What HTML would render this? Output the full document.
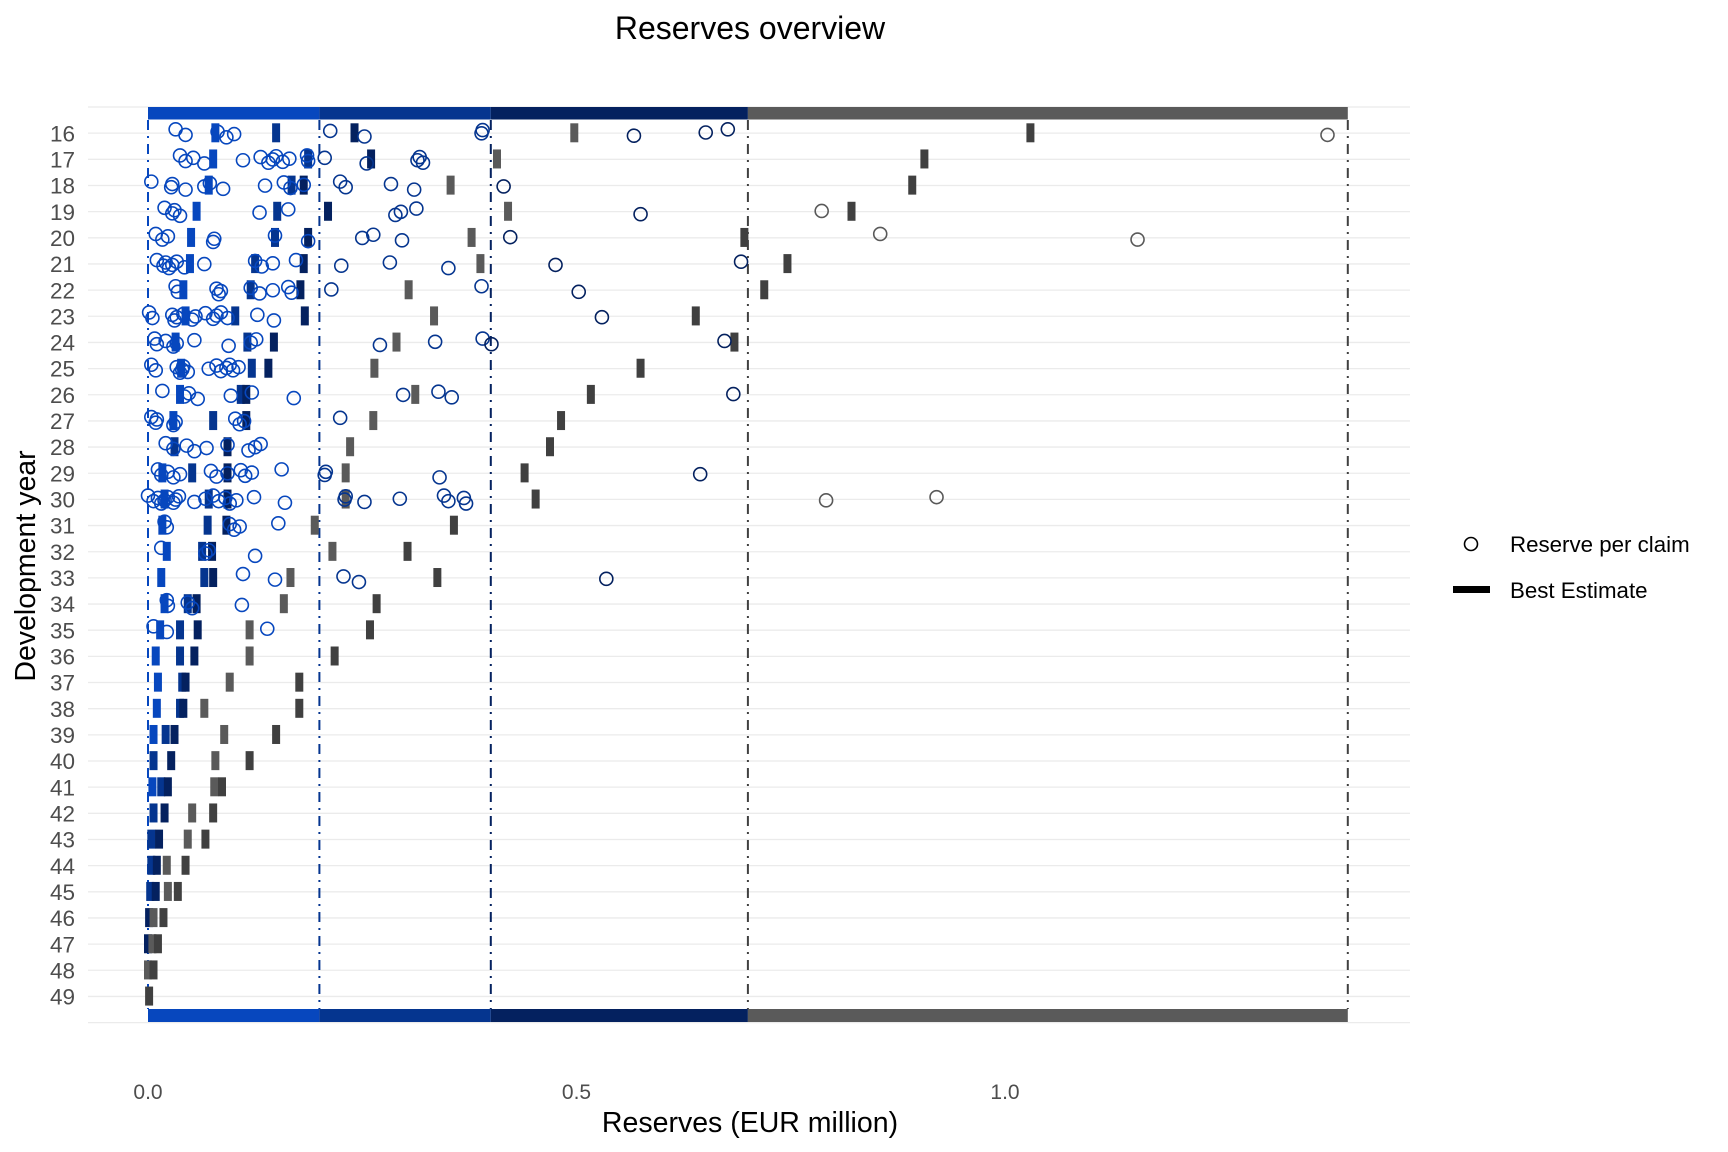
<!DOCTYPE html>
<html><head><meta charset="utf-8"><style>
html,body{margin:0;padding:0;background:#fff;}
svg{display:block;font-family:"Liberation Sans",Arial,sans-serif;}
</style></head><body>
<svg id="s" width="1728" height="1152" viewBox="0 0 1728 1152" xmlns="http://www.w3.org/2000/svg">
<rect width="1728" height="1152" fill="#fff"/>
<g id="grid"></g>
<g id="bars"></g>
<g id="dl"></g>
<g id="data"></g>
<g id="ylab" font-size="22.5" fill="#4d4d4d" text-anchor="end"></g>
<text x="750" y="39" font-size="32" text-anchor="middle" fill="#000">Reserves overview</text>
<text x="148" y="1099" font-size="21" fill="#4d4d4d" text-anchor="middle">0.0</text>
<text x="576.5" y="1099" font-size="21" fill="#4d4d4d" text-anchor="middle">0.5</text>
<text x="1005" y="1099" font-size="21" fill="#4d4d4d" text-anchor="middle">1.0</text>
<text x="750" y="1132" font-size="28.5" text-anchor="middle" fill="#000">Reserves (EUR million)</text>
<text transform="translate(35,566) rotate(-90)" font-size="28.5" text-anchor="middle" fill="#000">Development year</text>
<circle cx="1471" cy="544" r="6.5" fill="none" stroke="#000" stroke-width="1.6"/>
<text x="1510" y="552" font-size="22.3" fill="#000">Reserve per claim</text>
<rect x="1453" y="586" width="37" height="7" fill="#000"/>
<text x="1510" y="598" font-size="22.3" fill="#000">Best Estimate</text>
</svg>
<script>
var NS="http://www.w3.org/2000/svg";
function el(p,t,a){var e=document.createElementNS(NS,t);for(var k in a)e.setAttribute(k,a[k]);document.getElementById(p).appendChild(e);return e;}
var X=function(v){return 148+v*857;};
var xd=function(d){return 148+(d-134)*1.1044;};
var Y0=133.3,DY=26.16;
for(var k=0;k<36;k++){var y=107+DY*k;el("grid","line",{x1:88,x2:1410,y1:y,y2:y,stroke:"#ebebeb","stroke-width":1.3});}
var segs=[[0,0.2,"#0747BE"],[0.2,0.4,"#05358F"],[0.4,0.7,"#04215F"],[0.7,1.4,"#5a5a5a"]];
segs.forEach(function(s){el("bars","rect",{x:X(s[0]),y:107,width:X(s[1])-X(s[0]),height:12.5,fill:s[2]});el("bars","rect",{x:X(s[0]),y:1009,width:X(s[1])-X(s[0]),height:13,fill:s[2]});});
[[0,"#0747BE"],[0.2,"#05358F"],[0.4,"#04215F"],[0.7,"#404040"],[1.4,"#404040"]].forEach(function(l){el("dl","line",{x1:X(l[0]),x2:X(l[0]),y1:120,y2:1009,stroke:l[1],"stroke-width":2,"stroke-dasharray":"10,6,2,6"});});
var C={16:[159,168,197,205,212,299,330,436,437,574,639,659,1202],17:[163,168,175,185,220,236,243,247,250,256,262,278,279,294,332,378,380,383],18:[137,155,156,168,185,190,202,240,257,263,275,308,313,354,375,456],19:[149,156,158,163,235,261,358,363,377,580,744],20:[141,147,152,193,194,249,279,328,338,364,462,797,1030],21:[142,148,150,153,156,160,167,185,231,237,247,268,309,353,406,503,671],22:[159,161,196,198,200,227,235,247,261,264,300,436,524],23:[135,138,156,158,160,166,174,177,186,193,196,200,206,233,248,545],24:[140,142,150,157,160,176,207,227,232,344,394,437,445,656],25:[137,141,160,163,165,166,170,189,196,200,205,208,211,216],26:[147,167,171,179,209,228,266,365,397,409,664],27:[137,141,142,157,159,213,217,221,308],28:[150,157,169,176,187,206,225,231,236],29:[143,146,152,157,163,191,196,206,218,222,228,255,294,295,398,634],30:[134,139,143,146,149,152,157,159,162,176,186,193,198,204,208,214,230,258,312,313,330,362,402,406,420,422,748,848],31:[149,151,208,212,217,252],32:[146,186,189,231],33:[220,249,311,325,549],34:[151,152,170,174,219],35:[139,151,242]};
var R={16:[195,250,321,520,933],17:[193,279,336,450,837],18:[189,264,275,408,826],19:[178,251,297,460,771],20:[173,249,279,427,674],21:[172,231,275,435,713],22:[166,227,272,370,692],23:[168,213,276,393,630],24:[159,224,248,359,665],25:[164,228,243,339,580],26:[163,218,223,376,535],27:[157,193,223,338,508],28:[158,206,317,498],29:[147,174,206,313,475],30:[149,189,206,313,485],31:[147,188,205,285,411],32:[151,183,192,301,369],33:[146,185,193,263,396],34:[149,170,178,257,341],35:[145,163,179,226,335],36:[141,163,176,226,303],37:[143,165,168,208,271],38:[142,163,166,185,271],39:[139,150,158,203,250],40:[139,155,195,226],41:[138,146,152,194,201],42:[139,149,174,193],43:[137,144,170,186],44:[137,142,151,168],45:[136,141,152,161],46:[135,139,148],47:[134,138,143],48:[134,139],49:[135]};
var rc=["#0747BE","#05358F","#04215F","#5a5a5a","#404040"];
for(var yr=16;yr<=49;yr++){
 var y=Y0+(yr-16)*DY;
 var t=el("ylab","text",{x:75,y:y+8});t.textContent=yr;
 var rr=R[yr]||[];var n=rr.length;
 rr.forEach(function(d,i){var ci=n>=5?i:(i+(5-n));el("data","rect",{x:xd(d)-4,y:y-10,width:8,height:19,fill:rc[Math.min(ci,4)]});});
 (C[yr]||[]).forEach(function(d,i){var x=xd(d),v=(x-148)/857;var c=v<0.2?"#0747BE":v<0.4?"#05358F":v<0.7?"#04215F":"#595959";el("data","circle",{cx:x,cy:y+((i*7)%11-5)*0.8,r:6.5,fill:"none",stroke:c,"stroke-width":1.6});});
}
</script>
</body></html>
